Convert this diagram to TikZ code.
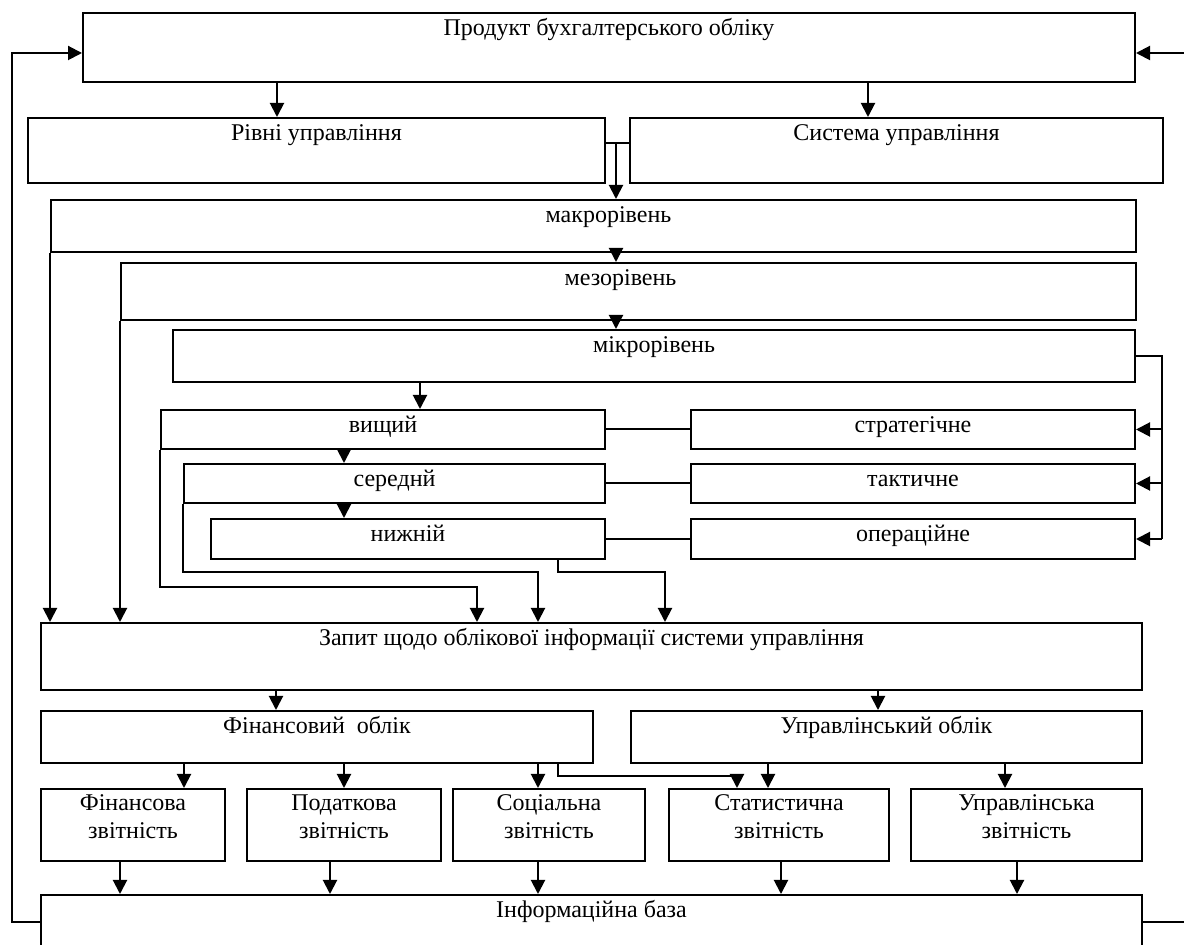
\documentclass[tikz,border=0pt]{standalone}
\usepackage{fontspec}
\setmainfont{Liberation Serif}
\usetikzlibrary{arrows.meta}

\begin{document}
\begin{tikzpicture}[
  x=0.5pt, y=-0.5pt,
  line width=1pt,
  >={Triangle[length=7pt, width=7pt]},
  every node/.style={font=\fontsize{12}{14}\selectfont},
  block/.style={rectangle, draw, anchor=north west, inner sep=0pt},
  caption/.style={anchor=north, inner sep=3pt, align=center},
  title/.style={caption, text height=8.3pt},
  arrow/.style={->}
]
\clip[use as bounding box] (0,0) rectangle (1184,945);

\node[block, minimum width=526pt, minimum height=34.5pt,
      label={[title]north:Продукт бухгалтерського обліку}] (prod) at (82,12) {};
\node[block, minimum width=288.5pt, minimum height=32.5pt,
      label={[title]north:Рівні управління}] (levels) at (27,117) {};
\node[block, minimum width=266.5pt, minimum height=32.5pt,
      label={[title]north:Система управління}] (system) at (629,117) {};

\node[block, minimum width=542.5pt, minimum height=26pt,
      label={[title, xshift=7.5pt]north:макрорівень}] (macro) at (50,199) {};
\node[block, minimum width=507.5pt, minimum height=28.5pt,
      label={[title, xshift=-4pt]north:мезорівень}] (meso) at (120,262) {};
\node[block, minimum width=481pt, minimum height=26pt,
      label={[title]north:мікрорівень}] (micro) at (172,329) {};

\node[block, minimum width=222pt, minimum height=19.5pt,
      label={[title]north:вищий}] (top) at (160,409) {};
\node[block, minimum width=210.5pt, minimum height=19.5pt,
      label={[title]north:середнй}] (middle) at (183,463) {};
\node[block, minimum width=197pt, minimum height=20pt,
      label={[title]north:нижній}] (low) at (210,518) {};
\node[block, minimum width=222pt, minimum height=19.5pt,
      label={[title]north:стратегічне}] (strat) at (690,409) {};
\node[block, minimum width=222pt, minimum height=19.5pt,
      label={[title]north:тактичне}] (tact) at (690,463) {};
\node[block, minimum width=222pt, minimum height=20pt,
      label={[title]north:операційне}] (oper) at (690,518) {};

\node[block, minimum width=550.5pt, minimum height=33.5pt,
      label={[title]north:Запит щодо облікової інформації системи управління}] (query) at (40,622) {};
\node[block, minimum width=276pt, minimum height=26pt,
      label={[title]north:Фінансовий\ \ облік}] (fin) at (40,710) {};
\node[block, minimum width=255.5pt, minimum height=26pt,
      label={[title]north:Управлінський облік}] (mgmt) at (630,710) {};

\node[block, minimum width=92pt, minimum height=36pt,
      label={[caption]north:Фінансова\\звітність}] (rep1) at (40,788) {};
\node[block, minimum width=97pt, minimum height=36pt,
      label={[caption]north:Податкова\\звітність}] (rep2) at (246,788) {};
\node[block, minimum width=96pt, minimum height=36pt,
      label={[caption]north:Соціальна\\звітність}] (rep3) at (452,788) {};
\node[block, minimum width=110pt, minimum height=36pt,
      label={[caption]north:Статистична\\звітність}] (rep4) at (668,788) {};
\node[block, minimum width=115.5pt, minimum height=36pt,
      label={[caption]north:Управлінська\\звітність}] (rep5) at (910,788) {};

\node[block, minimum width=550.5pt, minimum height=50pt,
      label={[title]north:Інформаційна база}] (base) at (40,894) {};

\coordinate (spine) at (616,143);
\coordinate (bus) at (1162,0);

\draw[arrow] (277,0 |- prod.south) -- (277,0 |- levels.north);
\draw[arrow] (868,0 |- prod.south) -- (868,0 |- system.north);
\draw (levels.east |- spine) -- (system.west |- spine);
\draw[arrow] (spine) -- (spine |- macro.north);
\draw[arrow] (spine |- macro.south) -- (spine |- meso.north);
\draw[arrow] (spine |- meso.south) -- (spine |- micro.north);

\draw[arrow] (macro.south west) -- (macro.south west |- query.north);
\draw[arrow] (meso.south west) -- (meso.south west |- query.north);

\draw[arrow] (420,0 |- micro.south) -- (420,0 |- top.north);
\draw (micro.east) -| (bus |- oper.east);
\foreach \n in {strat,tact,oper}
  \draw[arrow] (bus |- \n.east) -- (\n.east);

\draw[arrow] (344,0 |- top.south) -- (344,0 |- middle.north);
\draw[arrow] (344,0 |- middle.south) -- (344,0 |- low.north);
\draw (top.east) -- (strat.west);
\draw (middle.east) -- (tact.west);
\draw (low.east) -- (oper.west);

\draw[arrow] (top.south west) -- (top.south west |- 0,587) -| (477,0 |- query.north);
\draw[arrow] (middle.south west) -- (middle.south west |- 0,572) -| (538,0 |- query.north);
\draw[arrow] (558,0 |- low.south) -- (558,572) -| (665,0 |- query.north);

\draw[arrow] (276,0 |- query.south) -- (276,0 |- fin.north);
\draw[arrow] (878,0 |- query.south) -- (878,0 |- mgmt.north);

\draw[arrow] (184,0 |- fin.south) -- (184,0 |- rep1.north);
\draw[arrow] (344,0 |- fin.south) -- (344,0 |- rep2.north);
\draw[arrow] (538,0 |- fin.south) -- (538,0 |- rep3.north);
\draw[arrow] (558,0 |- fin.south) -- (558,776) -| (737,0 |- rep4.north);
\draw[arrow] (768,0 |- mgmt.south) -- (768,0 |- rep4.north);
\draw[arrow] (1005,0 |- mgmt.south) -- (1005,0 |- rep5.north);

\draw[arrow] (120,0 |- rep1.south) -- (120,0 |- base.north);
\draw[arrow] (330,0 |- rep2.south) -- (330,0 |- base.north);
\draw[arrow] (538,0 |- rep3.south) -- (538,0 |- base.north);
\draw[arrow] (781,0 |- rep4.south) -- (781,0 |- base.north);
\draw[arrow] (1017,0 |- rep5.south) -- (1017,0 |- base.north);

\draw[arrow] (base.west |- 0,922) -| (12,53) -- (prod.west |- 0,53);
\draw[arrow] (base.east |- 0,922) -| (1196,53) -- (prod.east |- 0,53);

\end{tikzpicture}
\end{document}
